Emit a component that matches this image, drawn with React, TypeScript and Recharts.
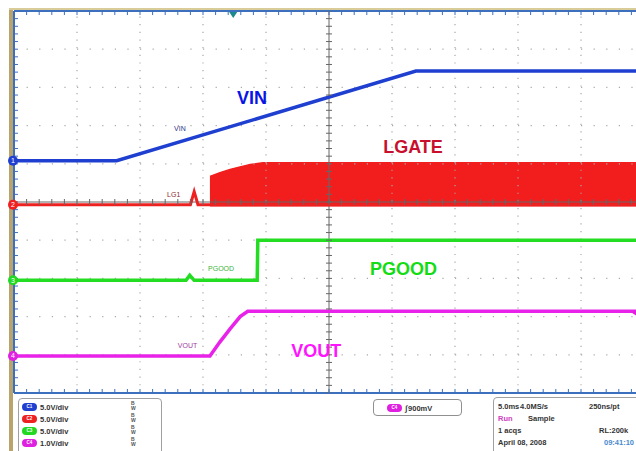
import {
  ComposedChart,
  Line,
  Area,
  Scatter,
  XAxis,
  YAxis,
  ReferenceLine,
  ReferenceDot,
} from "recharts";

// time in screen divisions (0..10), level in divisions from screen centre (-5..5)
const vinTime = [0, 1.63, 6.38, 10];
const vinLevel = [1.08, 1.08, 3.43, 3.43];

const lgateTime = [0, 2.8, 2.86, 2.92, 3.1, 10];
const lgateLevel = [-0.07, -0.07, 0.27, -0.07, -0.07, -0.07];

const lgateBurstTime = [3.11, 3.27, 3.43, 3.59, 3.75, 3.95, 10];
const lgateBurstTop = [0.67, 0.77, 0.85, 0.92, 0.98, 1.03, 1.03];

const pgoodTime = [0, 2.73, 2.79, 2.86, 3.86, 3.87, 10];
const pgoodLevel = [-2.05, -2.05, -1.92, -2.05, -2.05, -1.0, -1.0];

const voutTime = [0, 3.11, 3.27, 3.43, 3.59, 3.71, 10];
const voutLevel = [-4.03, -4.03, -3.66, -3.32, -3.0, -2.86, -2.86];

const channelNames = ["1", "2", "3", "4"];
const channelGround = [1.08, -0.07, -2.05, -4.03];
const channelColors = ["#1f3fd0", "#ee2020", "#22d822", "#e020e0"];

const majorX = [1, 2, 3, 4, 6, 7, 8, 9];
const majorY = [-4, -3, -2, -1, 1, 2, 3, 4];
const minorX = Array.from({ length: 51 }, (_, i) => Math.round(i * 2) / 10);
const minorY = Array.from({ length: 51 }, (_, i) => Math.round(-50 + i * 2) / 10);

const toPoints = (xs: number[], ys: number[]) => xs.map((x, i) => ({ x, y: ys[i] }));

const vinData = toPoints(vinTime, vinLevel);
const lgateData = toPoints(lgateTime, lgateLevel);
const lgateBurst = toPoints(lgateBurstTime, lgateBurstTop);
const pgoodData = toPoints(pgoodTime, pgoodLevel);
const voutData = toPoints(voutTime, voutLevel);

const centreVTicks = minorY.map((y) => ({ x: 5, y }));
const centreHTicks = minorX.map((x) => ({ x, y: 0 }));
const topTicks = minorX.map((x) => ({ x, y: 5 }));
const bottomTicks = minorX.map((x) => ({ x, y: -5 }));
const leftTicks = minorY.map((y) => ({ x: 0, y }));

const bigLabels = [
  { text: "VIN", x: 3.54, y: 2.57, color: "#0a14e6" },
  { text: "LGATE", x: 5.86, y: 1.29, color: "#c8102e" },
  { text: "PGOOD", x: 5.65, y: -1.92, color: "#14dc14" },
  { text: "VOUT", x: 4.4, y: -4.07, color: "#ff14ff" },
];
const smallLabels = [
  { text: "VIN", x: 2.54, y: 1.87, color: "#2c3488" },
  { text: "LG1", x: 2.43, y: 0.14, color: "#8a2a2a" },
  { text: "PGOOD", x: 3.08, y: -1.81, color: "#3cb43c" },
  { text: "VOUT", x: 2.6, y: -3.83, color: "#a03ca0" },
];

const scaleRows = ["5.0V/div", "5.0V/div", "5.0V/div", "1.0V/div"];

const BORDER = "#3d6fbf";
const GRID = "#a8a8a8";
const font = "'Liberation Sans', Arial, sans-serif";

function Badge({ color, label }: { color: string; label: string }) {
  return (
    <span
      style={{
        display: "inline-block",
        width: 15,
        height: 8,
        borderRadius: 4,
        background: color,
        color: "#fff",
        fontSize: 4.5,
        lineHeight: "8px",
        textAlign: "center",
        verticalAlign: "middle",
      }}
    >
      {label}
    </span>
  );
}

const tickShape = (dx1: number, dx2: number, dy1: number, dy2: number, color: string) => (p: any) => (
  <line x1={p.cx + dx1} x2={p.cx + dx2} y1={p.cy + dy1} y2={p.cy + dy2} stroke={color} strokeWidth={1} />
);

export default function App() {
  return (
    <div
      style={{
        position: "absolute",
        left: 0,
        top: 0,
        width: 636,
        height: 451,
        overflow: "hidden",
        background: "#fff",
        fontFamily: font,
      }}
    >
      <div style={{ position: "absolute", left: 9, top: 8, width: 4, height: 443, background: "#b9a46e" }} />
      <div style={{ position: "absolute", left: 9, top: 8, width: 640, height: 2, background: "#d9cc98" }} />

      <div style={{ position: "absolute", left: 0, top: 0 }}>
        <ComposedChart width={660} height={396} margin={{ top: 11, right: 16, left: 14, bottom: 3 }}>
          <XAxis dataKey="x" type="number" domain={[0, 10]} allowDataOverflow hide />
          <YAxis dataKey="y" type="number" domain={[-5, 5]} allowDataOverflow hide />

          {majorX.map((v) => (
            <ReferenceLine key={"gx" + v} x={v} stroke={GRID} strokeWidth={1.2} strokeDasharray="1.2 6.46" />
          ))}
          {majorY.map((v) => (
            <ReferenceLine key={"gy" + v} y={v} stroke={GRID} strokeWidth={1.2} strokeDasharray="1.2 11.4" />
          ))}
          <ReferenceLine x={5} stroke="#666" strokeWidth={1} />
          <ReferenceLine y={0} stroke="#666" strokeWidth={1} />
          <Scatter data={centreVTicks} dataKey="y" isAnimationActive={false} shape={tickShape(-3, 3, 0, 0, "#666")} />
          <Scatter data={centreHTicks} dataKey="y" isAnimationActive={false} shape={tickShape(0, 0, -3, 3, "#666")} />

          <Area
            data={lgateBurst}
            dataKey="y"
            type="linear"
            baseValue={-0.12}
            fill="#f21e1e"
            fillOpacity={1}
            stroke="#f21e1e"
            strokeWidth={1.5}
            isAnimationActive={false}
          />
          <Line data={lgateData} dataKey="y" type="linear" stroke="#ee2020" strokeWidth={3} dot={false} isAnimationActive={false} />
          <Line data={vinData} dataKey="y" type="linear" stroke="#1f3fd0" strokeWidth={3.5} dot={false} isAnimationActive={false} />
          <Line data={pgoodData} dataKey="y" type="linear" stroke="#22dd22" strokeWidth={3.5} dot={false} isAnimationActive={false} />
          <Line data={voutData} dataKey="y" type="linear" stroke="#e822e8" strokeWidth={3.5} dot={false} isAnimationActive={false} />

          {/* frame */}
          <ReferenceLine y={5} stroke={BORDER} strokeWidth={2} />
          <ReferenceLine y={-5} stroke={BORDER} strokeWidth={2} />
          <ReferenceLine x={0} stroke={BORDER} strokeWidth={2} />
          <Scatter data={topTicks} dataKey="y" isAnimationActive={false} shape={tickShape(0, 0, 0, 4, BORDER)} />
          <Scatter data={bottomTicks} dataKey="y" isAnimationActive={false} shape={tickShape(0, 0, -4, 0, BORDER)} />
          <Scatter data={leftTicks} dataKey="y" isAnimationActive={false} shape={tickShape(0, 4, 0, 0, BORDER)} />

          {bigLabels.map((l) => (
            <ReferenceDot
              key={l.text}
              x={l.x}
              y={l.y}
              ifOverflow="visible"
              shape={(p: any) => (
                <text x={p.cx} y={p.cy} fill={l.color} fontSize={18} fontWeight="bold" fontFamily={font}>
                  {l.text}
                </text>
              )}
            />
          ))}
          {smallLabels.map((l) => (
            <ReferenceDot
              key={"s" + l.text}
              x={l.x}
              y={l.y}
              ifOverflow="visible"
              shape={(p: any) => (
                <text x={p.cx} y={p.cy} fill={l.color} fontSize={7} fontFamily={font}>
                  {l.text}
                </text>
              )}
            />
          ))}
          {channelNames.map((n, i) => (
            <ReferenceDot
              key={"c" + n}
              x={0}
              y={channelGround[i]}
              ifOverflow="visible"
              shape={(p: any) => (
                <g>
                  <circle cx={p.cx - 1} cy={p.cy} r={5} fill={channelColors[i]} />
                  <text x={p.cx - 1} y={p.cy + 2.5} fill="#fff" fontSize={7} textAnchor="middle" fontFamily={font}>
                    {n}
                  </text>
                </g>
              )}
            />
          ))}
          <ReferenceDot
            x={3.48}
            y={5}
            ifOverflow="visible"
            shape={(p: any) => (
              <path d={`M${p.cx - 4},${p.cy + 1} L${p.cx + 4},${p.cy + 1} L${p.cx},${p.cy + 7} Z`} fill="#1a8a8a" />
            )}
          />
          <ReferenceDot
            x={9.87}
            y={-2.9}
            ifOverflow="visible"
            shape={(p: any) => (
              <path d={`M${p.cx - 4},${p.cy} L${p.cx + 2},${p.cy - 4} L${p.cx + 2},${p.cy + 4} Z`} fill="#e020e0" />
            )}
          />
        </ComposedChart>
      </div>

      {/* status panel */}
      <div
        style={{
          position: "absolute",
          left: 18,
          top: 398,
          width: 142,
          height: 60,
          border: "1px solid #a0a0a0",
          borderRadius: 4,
        }}
      >
        {scaleRows.map((s, i) => (
          <div
            key={i}
            style={{ position: "absolute", left: 3, top: 3 + i * 12, height: 10, fontSize: 7.5, color: "#333", fontWeight: "bold", whiteSpace: "nowrap" }}
          >
            <Badge color={channelColors[i]} label={"C" + (i + 1)} />
            <span style={{ marginLeft: 3, verticalAlign: "middle" }}>{s}</span>
            <span style={{ position: "absolute", left: 109, top: -1, fontSize: 5, lineHeight: "5px", color: "#555" }}>
              B<br />W
            </span>
          </div>
        ))}
      </div>

      <div
        style={{
          position: "absolute",
          left: 373,
          top: 399,
          width: 87,
          height: 15,
          border: "1px solid #909090",
          borderRadius: 4,
          fontSize: 7.5,
          color: "#333",
          fontWeight: "bold",
          whiteSpace: "nowrap",
        }}
      >
        <div style={{ position: "absolute", left: 13, top: 3 }}>
          <Badge color="#e020e0" label="C4" />
          <span style={{ marginLeft: 3, verticalAlign: "middle", fontStyle: "italic" }}>∫</span>
          <span style={{ marginLeft: 1, verticalAlign: "middle" }}>900mV</span>
        </div>
      </div>

      <div
        style={{
          position: "absolute",
          left: 493,
          top: 397,
          width: 150,
          height: 60,
          border: "1px solid #a0a0a0",
          borderRadius: 4,
          fontSize: 7.5,
          color: "#333",
          fontWeight: "bold",
          whiteSpace: "nowrap",
        }}
      >
        <span style={{ position: "absolute", left: 4, top: 4 }}>5.0ms</span>
        <span style={{ position: "absolute", left: 26, top: 4 }}>4.0MS/s</span>
        <span style={{ position: "absolute", left: 95, top: 4 }}>250ns/pt</span>
        <span style={{ position: "absolute", left: 4, top: 16, color: "#d040c0" }}>Run</span>
        <span style={{ position: "absolute", left: 34, top: 16 }}>Sample</span>
        <span style={{ position: "absolute", left: 4, top: 28 }}>1 acqs</span>
        <span style={{ position: "absolute", left: 105, top: 28 }}>RL:200k</span>
        <span style={{ position: "absolute", left: 4, top: 40 }}>April 08, 2008</span>
        <span style={{ position: "absolute", left: 110, top: 40, color: "#4a8ad0" }}>09:41:10</span>
      </div>
    </div>
  );
}
